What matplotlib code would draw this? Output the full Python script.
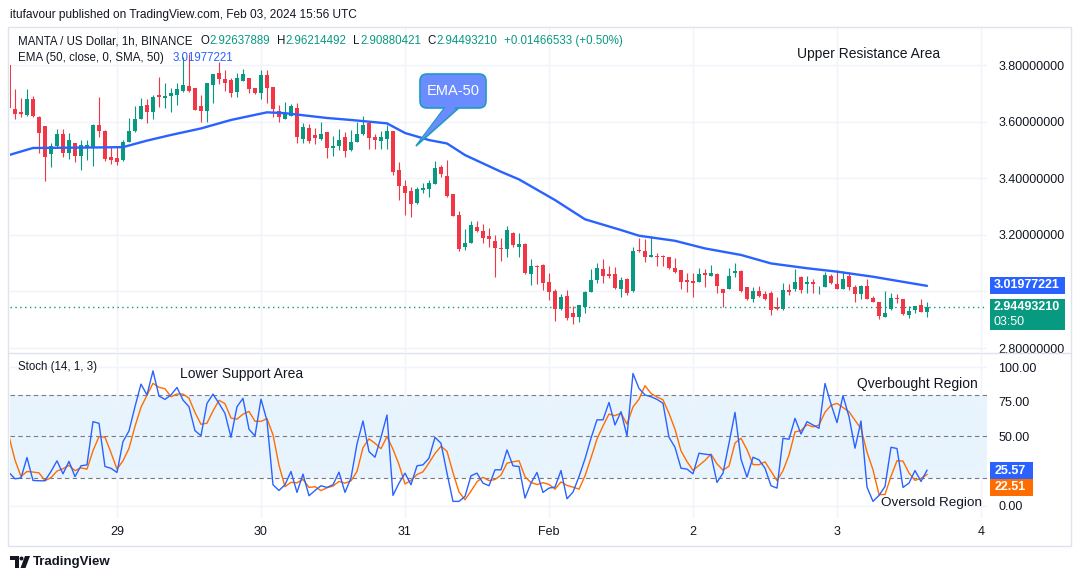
import matplotlib
matplotlib.use("Agg")
import matplotlib.pyplot as plt
import numpy as np
import pandas as pd
from matplotlib.patches import FancyBboxPatch, Polygon, Rectangle, Circle
from matplotlib.transforms import Affine2D

plt.rcParams['font.family'] = ['Liberation Sans', 'DejaVu Sans']

# ---------------- DATA ----------------
start_time = "2024-01-28 06:00"

opens = [
    3.800, 3.645, 3.633, 3.625, 3.680, 3.615, 3.585, 3.485, 3.515, 3.555,
    3.490, 3.525, 3.480, 3.508, 3.510, 3.588, 3.567, 3.475, 3.470, 3.465,
    3.528, 3.568, 3.610, 3.658, 3.633, 3.693, 3.683, 3.690, 3.695, 3.710,
    3.727, 3.718, 3.655, 3.638, 3.730, 3.771, 3.750, 3.747, 3.705, 3.745,
    3.753, 3.720, 3.700, 3.765, 3.722, 3.638, 3.610, 3.620, 3.648, 3.540,
    3.578, 3.552, 3.540, 3.562, 3.508, 3.515, 3.545, 3.500, 3.528, 3.555,
    3.595, 3.545, 3.532, 3.540, 3.568, 3.430, 3.373, 3.355, 3.312, 3.360,
    3.363, 3.378, 3.440, 3.408, 3.343, 3.270, 3.157, 3.172, 3.226, 3.213,
    3.195, 3.180, 3.155, 3.150, 3.207, 3.158, 3.168, 3.060, 3.090, 3.093,
    3.033, 3.000, 2.937, 2.983, 2.925, 2.910, 2.945, 2.998, 3.040, 3.080,
    3.062, 3.063, 3.010, 3.043, 3.000, 3.148, 3.143, 3.120, 3.127, 3.125,
    3.122, 3.083, 3.075, 3.040, 3.037, 3.033, 3.065, 3.055, 3.060, 3.010,
    3.008, 3.065, 3.073, 3.015, 2.975, 3.000, 2.990, 2.995, 2.945, 2.937,
    3.005, 3.010, 3.050, 3.025, 3.033, 3.000, 3.015, 3.055, 3.025, 3.008,
    3.055, 3.015, 2.990, 3.020, 2.977, 2.962, 2.910, 2.937, 2.977, 2.975,
    2.918, 2.935, 2.953, 2.92637889,
]
highs = [
    3.800, 3.715, 3.683, 3.715, 3.690, 3.620, 3.585, 3.525, 3.575, 3.575,
    3.560, 3.525, 3.535, 3.535, 3.590, 3.687, 3.570, 3.510, 3.510, 3.536,
    3.612, 3.655, 3.685, 3.680, 3.695, 3.757, 3.735, 3.720, 3.735, 3.830,
    3.840, 3.720, 3.694, 3.737, 3.770, 3.810, 3.783, 3.754, 3.772, 3.785,
    3.753, 3.720, 3.782, 3.782, 3.722, 3.660, 3.670, 3.663, 3.665, 3.595,
    3.593, 3.577, 3.600, 3.562, 3.548, 3.573, 3.562, 3.570, 3.600, 3.620,
    3.598, 3.555, 3.567, 3.588, 3.568, 3.457, 3.394, 3.370, 3.370, 3.383,
    3.395, 3.460, 3.447, 3.463, 3.345, 3.284, 3.220, 3.250, 3.250, 3.240,
    3.224, 3.200, 3.190, 3.230, 3.210, 3.207, 3.170, 3.115, 3.095, 3.097,
    3.065, 3.010, 2.990, 3.005, 2.950, 2.952, 3.000, 3.080, 3.100, 3.115,
    3.090, 3.088, 3.050, 3.048, 3.157, 3.190, 3.185, 3.195, 3.135, 3.130,
    3.122, 3.117, 3.075, 3.065, 3.065, 3.083, 3.080, 3.093, 3.065, 3.010,
    3.083, 3.100, 3.077, 3.015, 3.015, 3.020, 3.000, 3.002, 2.980, 3.030,
    3.025, 3.080, 3.055, 3.055, 3.045, 3.020, 3.067, 3.060, 3.075, 3.072,
    3.070, 3.022, 3.023, 3.045, 2.985, 2.962, 3.003, 2.995, 2.990, 2.975,
    2.948, 2.948, 2.975, 2.96214492,
]
lows = [
    3.640, 3.610, 3.616, 3.620, 3.615, 3.490, 3.390, 3.440, 3.510, 3.475,
    3.467, 3.457, 3.430, 3.465, 3.443, 3.546, 3.462, 3.450, 3.447, 3.462,
    3.528, 3.565, 3.610, 3.595, 3.610, 3.652, 3.648, 3.635, 3.660, 3.705,
    3.705, 3.640, 3.600, 3.600, 3.665, 3.733, 3.708, 3.687, 3.688, 3.745,
    3.700, 3.698, 3.680, 3.665, 3.616, 3.600, 3.610, 3.620, 3.525, 3.525,
    3.525, 3.520, 3.536, 3.470, 3.480, 3.500, 3.475, 3.498, 3.528, 3.553,
    3.505, 3.505, 3.505, 3.505, 3.410, 3.323, 3.270, 3.263, 3.310, 3.348,
    3.335, 3.378, 3.405, 3.333, 3.265, 3.143, 3.146, 3.172, 3.210, 3.172,
    3.157, 3.050, 3.107, 3.120, 3.157, 3.122, 3.060, 3.023, 3.027, 3.005,
    2.970, 2.895, 2.935, 2.898, 2.885, 2.892, 2.925, 2.997, 3.030, 3.030,
    3.046, 3.010, 2.980, 2.988, 2.998, 3.140, 3.105, 3.120, 3.090, 3.090,
    3.080, 3.065, 3.008, 2.998, 2.980, 3.033, 3.015, 3.053, 2.995, 2.945,
    3.008, 3.050, 2.997, 2.970, 2.962, 2.980, 2.970, 2.915, 2.935, 2.935,
    2.988, 3.000, 2.995, 2.995, 2.993, 2.990, 3.015, 3.025, 3.008, 3.008,
    3.005, 2.962, 2.975, 2.975, 2.962, 2.902, 2.910, 2.935, 2.960, 2.915,
    2.905, 2.925, 2.927, 2.90880421,
]
closes = [
    3.650, 3.628, 3.628, 3.680, 3.620, 3.560, 3.475, 3.515, 3.555, 3.490,
    3.535, 3.480, 3.518, 3.518, 3.588, 3.567, 3.468, 3.465, 3.457, 3.528,
    3.568, 3.610, 3.655, 3.633, 3.687, 3.687, 3.690, 3.700, 3.715, 3.730,
    3.710, 3.640, 3.638, 3.735, 3.768, 3.750, 3.737, 3.700, 3.755, 3.768,
    3.715, 3.700, 3.765, 3.718, 3.645, 3.616, 3.630, 3.655, 3.545, 3.580,
    3.532, 3.543, 3.556, 3.506, 3.515, 3.535, 3.495, 3.528, 3.555, 3.588,
    3.542, 3.535, 3.545, 3.568, 3.422, 3.373, 3.348, 3.310, 3.362, 3.365,
    3.385, 3.435, 3.415, 3.337, 3.265, 3.150, 3.172, 3.235, 3.215, 3.190,
    3.185, 3.153, 3.150, 3.217, 3.165, 3.168, 3.065, 3.090, 3.087, 3.030,
    2.998, 2.937, 2.980, 2.905, 2.910, 2.952, 2.998, 3.040, 3.082, 3.055,
    3.055, 3.012, 3.040, 2.995, 3.142, 3.143, 3.120, 3.128, 3.120, 3.120,
    3.083, 3.068, 3.033, 3.033, 3.030, 3.060, 3.058, 3.065, 3.020, 2.995,
    3.055, 3.073, 3.000, 2.975, 3.000, 2.985, 2.975, 2.935, 2.937, 3.005,
    2.998, 3.033, 3.005, 3.033, 3.025, 3.003, 3.058, 3.030, 3.008, 3.045,
    3.015, 2.990, 3.020, 2.975, 2.962, 2.912, 2.925, 2.977, 2.972, 2.920,
    2.930, 2.948, 2.927, 2.94493210,
]

ema_times = [
    "2024-01-28 06:00", "2024-01-28 10:00", "2024-01-28 16:00", "2024-01-28 21:00",
    "2024-01-29 01:00", "2024-01-29 05:00", "2024-01-29 09:00", "2024-01-29 14:00",
    "2024-01-29 19:00", "2024-01-30 01:00", "2024-01-30 04:00", "2024-01-30 11:00",
    "2024-01-30 15:00", "2024-01-30 21:00", "2024-01-31 00:00", "2024-01-31 04:00",
    "2024-01-31 07:00", "2024-01-31 10:00", "2024-01-31 16:00", "2024-01-31 19:00",
    "2024-02-01 01:00", "2024-02-01 06:00", "2024-02-01 12:00", "2024-02-01 15:00",
    "2024-02-01 21:00", "2024-02-02 02:00", "2024-02-02 08:00", "2024-02-02 13:00",
    "2024-02-02 19:00", "2024-02-03 00:00", "2024-02-03 06:00", "2024-02-03 11:00",
    "2024-02-03 15:00",
]
ema_values = [
    3.482, 3.507, 3.508, 3.509, 3.510, 3.533, 3.553, 3.576,
    3.606, 3.633, 3.630, 3.613, 3.606, 3.594, 3.560, 3.535,
    3.523, 3.482, 3.423, 3.396, 3.323, 3.255, 3.217, 3.197,
    3.179, 3.152, 3.129, 3.099, 3.082, 3.070, 3.052, 3.034,
    3.01977221,
]

stoch_k = [
    24.0, 19.4, 20.0, 34.8, 18.2, 18.0, 18.0, 24.7, 32.4, 23.0,
    32.0, 21.0, 28.8, 29.5, 60.7, 59.5, 28.3, 27.0, 24.0, 46.3,
    54.0, 71.5, 87.8, 80.0, 97.4, 79.2, 76.8, 80.0, 85.4, 76.3,
    71.5, 54.2, 50.6, 73.9, 80.6, 73.9, 66.7, 49.4, 71.5, 77.5,
    55.2, 50.4, 77.0, 61.4, 15.1, 11.0, 15.1, 24.7, 9.6, 22.8,
    7.2, 11.0, 14.4, 13.2, 15.1, 24.2, 9.6, 20.0, 44.6, 61.2,
    39.1, 35.0, 49.4, 65.5, 7.4, 16.3, 23.5, 15.1, 28.8, 29.5,
    34.3, 49.4, 45.1, 23.5, 3.1, 3.1, 6.7, 21.6, 23.5, 16.3,
    14.4, 25.9, 25.9, 40.3, 28.8, 28.3, 5.5, 16.3, 24.0, 9.6,
    12.7, 13.4, 25.4, 5.0, 9.8, 21.0, 33.8, 48.7, 62.0, 62.0,
    74.6, 58.3, 67.9, 50.4, 95.5, 84.7, 80.0, 78.7, 76.8, 74.0,
    49.4, 42.2, 27.1, 26.4, 23.0, 37.9, 37.2, 36.7, 16.8, 23.5,
    45.1, 67.4, 33.6, 20.6, 35.0, 33.1, 27.1, 14.4, 12.7, 48.7,
    48.0, 63.1, 51.8, 60.7, 58.3, 55.9, 88.3, 73.4, 60.0, 79.4,
    64.3, 41.5, 61.2, 13.4, 3.1, 7.4, 13.9, 42.2, 41.3, 13.2,
    16.3, 25.4, 17.5, 25.57,
]
stoch_d = [
    50.0, 33.0, 21.1, 24.7, 24.3, 23.7, 18.1, 20.2, 25.0, 26.7,
    29.1, 25.3, 27.3, 26.4, 39.7, 49.9, 49.5, 38.3, 26.4, 32.4,
    41.4, 57.3, 71.1, 79.8, 88.4, 85.5, 84.5, 78.7, 80.7, 80.6,
    77.7, 67.3, 58.8, 59.6, 68.4, 76.1, 73.7, 63.3, 62.5, 66.1,
    68.1, 61.0, 60.9, 62.9, 51.2, 29.2, 13.7, 16.9, 16.5, 19.0,
    13.2, 13.7, 10.9, 12.9, 14.2, 17.5, 16.3, 17.9, 24.7, 41.9,
    48.3, 45.1, 41.2, 50.0, 40.8, 29.7, 15.7, 18.3, 22.5, 24.5,
    30.9, 37.7, 42.9, 39.3, 23.9, 9.9, 4.3, 10.5, 17.3, 20.5,
    18.1, 18.9, 22.1, 30.7, 31.7, 32.5, 20.9, 16.7, 15.3, 16.6,
    15.4, 11.9, 17.2, 14.6, 13.4, 11.9, 21.5, 34.5, 48.2, 57.6,
    66.2, 65.0, 66.9, 58.9, 71.3, 76.9, 86.7, 81.1, 78.5, 76.5,
    66.7, 55.2, 39.6, 31.9, 25.5, 29.1, 32.7, 37.3, 30.2, 25.7,
    28.5, 45.3, 48.7, 40.5, 29.7, 29.6, 31.7, 24.9, 18.1, 25.3,
    36.5, 53.3, 54.3, 58.5, 56.9, 58.3, 67.5, 72.5, 73.9, 70.9,
    67.9, 61.7, 55.7, 38.7, 25.9, 8.0, 8.1, 21.2, 32.5, 32.2,
    23.6, 18.3, 19.7, 22.51,
]

day_ticks = ["2024-01-29", "2024-01-30", "2024-01-31", "2024-02-01",
             "2024-02-02", "2024-02-03", "2024-02-04"]
day_labels = ["29", "30", "31", "Feb", "2", "3", "4"]
price_ticks = [2.8, 3.0, 3.2, 3.4, 3.6, 3.8]
# the 3.0 label is hidden behind the value tags on the reference
price_tick_labels = ["2.80000000", "", "3.20000000",
                     "3.40000000", "3.60000000", "3.80000000"]
stoch_ticks = [0, 25, 50, 75, 100]
# the 25 label is hidden behind the value tags on the reference
stoch_tick_labels = ["0.00", "", "50.00", "75.00", "100.00"]

# ---------------- STYLE ----------------
W, H = 1080, 579
TXT = "#131722"
GRID = "#f0f3fa"
FRAME = "#e0e3eb"
UP = "#089981"
DN = "#f23645"
BLUE = "#2962ff"
ORANGE = "#ff6d00"

ref = pd.Timestamp("2024-01-29")
one_h = pd.Timedelta(hours=1)
times = pd.date_range(start_time, periods=len(closes), freq="h")
x = np.asarray((times - ref) / one_h, dtype=float)
ema_x = np.asarray((pd.to_datetime(ema_times) - ref) / one_h, dtype=float)
tick_x = np.asarray((pd.to_datetime(day_ticks) - ref) / one_h, dtype=float)

o = np.array(opens); hi = np.array(highs); lo = np.array(lows); c = np.array(closes)

fig = plt.figure(figsize=(W / 100, H / 100), dpi=100)
fig.patch.set_facecolor("white")
PX = Affine2D().scale(1.0 / W, -1.0 / H).translate(0, 1) + fig.transFigure


def frac(x0, y0, x1, y1):
    return [x0 / W, 1 - y1 / H, (x1 - x0) / W, (y1 - y0) / H]


ax1 = fig.add_axes(frac(10, 28, 987, 352))
ax2 = fig.add_axes(frac(10, 353, 987, 518), sharex=ax1)
for ax in (ax1, ax2):
    for s in ax.spines.values():
        s.set_visible(False)
    ax.set_facecolor("white")

# --- price panel ---
cols = np.where(c >= o, UP, DN)
ax1.vlines(x, lo, hi, colors=cols, lw=0.8, zorder=3)
body_b = np.minimum(o, c)
body_h = np.maximum(np.abs(c - o), 0.0025)
ax1.bar(x, body_h, bottom=body_b, width=0.72, color=cols, linewidth=0, zorder=4)
ax1.plot(ema_x, ema_values, color=BLUE, lw=1.7, zorder=5, solid_capstyle="round")
ax1.axhline(c[-1], color=UP, lw=1.0, ls=(0, (1, 2.5)), zorder=2)

ax1.set_xlim(-17.83, 145)
ax1.set_ylim(2.786, 3.931)
ax1.set_yticks(price_ticks)
ax1.set_yticklabels(price_tick_labels)
ax1.set_xticks(tick_x)
ax1.grid(True, color=GRID, lw=1.0, zorder=0)
ax1.yaxis.tick_right()
ax1.tick_params(axis="y", length=0, pad=8, labelsize=9, labelcolor=TXT)
ax1.tick_params(axis="x", length=0, labelbottom=False)

# --- stochastic panel ---
ax2.axhspan(20, 80, color="#2196f3", alpha=0.1, lw=0, zorder=1)
for lvl in (80, 50, 20):
    ax2.axhline(lvl, color="#787b86", lw=0.8, ls=(0, (4, 3)), zorder=2)
ax2.plot(x, stoch_k, color=BLUE, lw=1.0, zorder=4)
ax2.plot(x, stoch_d, color=ORANGE, lw=1.0, zorder=3)
ax2.set_ylim(-8.9, 110.3)
ax2.set_yticks(stoch_ticks)
ax2.set_yticklabels(stoch_tick_labels)
ax2.set_xticks(tick_x)
ax2.set_xticklabels(day_labels)
ax2.grid(True, color=GRID, lw=1.0, zorder=0)
ax2.yaxis.tick_right()
ax2.tick_params(axis="y", length=0, pad=8, labelsize=9, labelcolor=TXT)
ax2.tick_params(axis="x", length=0, pad=6, labelsize=9, labelcolor=TXT)

# --- frame lines ---
fig.add_artist(Rectangle((8, 27), 1063, 519, transform=PX, fill=False, ec=FRAME, lw=1))
fig.add_artist(plt.Line2D([8, 1071], [352.5, 352.5], transform=PX, color=FRAME, lw=1))

# --- text helpers ---
def ptext(px, py, s, **kw):
    kw.setdefault("color", TXT)
    kw.setdefault("fontsize", 9)
    kw.setdefault("va", "center")
    kw.setdefault("ha", "left")
    return fig.text(px / W, 1 - py / H, s, **kw)


def chain(prev, s, color=TXT, gap=0.0, fs=8.4, **kw):
    return ax1.annotate(s, xy=(1, 0.5), xycoords=prev, xytext=(gap, 0),
                        textcoords="offset points", va="center", ha="left",
                        color=color, fontsize=fs, annotation_clip=False, **kw)


ptext(10, 15, "itufavour published on TradingView.com, Feb 03, 2024 15:56 UTC", fontsize=8.6)

LFS = 8.3
t = ptext(18, 41, "MANTA / US Dollar, 1h, BINANCE", fontsize=LFS)
t = chain(t, "O", gap=6, fs=LFS)
t = chain(t, "2.92637889", UP, fs=LFS)
t = chain(t, "H", gap=5, fs=LFS)
t = chain(t, "2.96214492", UP, fs=LFS)
t = chain(t, "L", gap=5, fs=LFS)
t = chain(t, "2.90880421", UP, fs=LFS)
t = chain(t, "C", gap=5, fs=LFS)
t = chain(t, "2.94493210", UP, fs=LFS)
t = chain(t, "+0.01466533 (+0.50%)", UP, gap=5, fs=LFS)

t = ptext(18, 58, "EMA (50, close, 0, SMA, 50)", fontsize=LFS)
chain(t, "3.01977221", BLUE, gap=6, fs=LFS)

t = ptext(18, 367, "Stoch (14, 1, 3)", fontsize=LFS)
t = chain(t, "25.57", BLUE, gap=7, fs=LFS)
chain(t, "22.51", ORANGE, gap=6, fs=LFS)

# annotations
ptext(797, 54, "Upper Resistance Area", fontsize=10)
ptext(180, 374, "Lower Support Area", fontsize=10)
ptext(857, 384, "Qverbought Region", fontsize=10)
ptext(881, 503, "Oversold Region", fontsize=9.7)

# EMA-50 callout
tail_pts = [(446, 106), (461, 106), (416, 146)]
fig.add_artist(Polygon(tail_pts, closed=True, transform=PX, fc="#6b8cff", ec="#1f9bc2", lw=1.2))
fig.add_artist(FancyBboxPatch((420, 74), 66, 34, boxstyle="round,pad=0,rounding_size=7",
                              transform=PX, fc="#6b8cff", ec="#1f9bc2", lw=1.2))
fig.add_artist(Polygon([(448, 104), (459, 104), (420, 141)], closed=True, transform=PX,
                       fc="#6b8cff", ec="none"))
ptext(453, 91, "EMA-50", color="white", fontsize=10.5, ha="center")

# right scale value labels
fig.add_artist(Rectangle((990, 277), 75, 17, transform=PX, fc=BLUE, ec="none"))
ptext(994, 285.5, "3.01977221", color="white", fontweight="bold")
fig.add_artist(Rectangle((990, 299), 75, 31, transform=PX, fc=UP, ec="none"))
ptext(994, 307, "2.94493210", color="white", fontweight="bold")
ptext(994, 322, "03:50", color="white")
fig.add_artist(Rectangle((990, 462), 43, 16.5, transform=PX, fc=BLUE, ec="none"))
ptext(995, 470.5, "25.57", color="white", fontweight="bold")
fig.add_artist(Rectangle((990, 479), 43, 17, transform=PX, fc=ORANGE, ec="none"))
ptext(995, 487.5, "22.51", color="white", fontweight="bold")

# TradingView logo
fig.add_artist(Polygon([(10, 556), (19, 556), (19, 568), (15, 568), (15, 560), (10, 560)],
                       closed=True, transform=PX, fc=TXT, ec="none"))
fig.add_artist(Circle((21.5, 558.5), 2.0, transform=PX, fc=TXT, ec="none"))
fig.add_artist(Polygon([(25, 556), (30, 556), (25.5, 568), (20.5, 568)],
                       closed=True, transform=PX, fc=TXT, ec="none"))
ptext(33, 562, "TradingView", fontsize=9.5, fontweight="bold")

fig.savefig("out.png", dpi=100, facecolor="white")
